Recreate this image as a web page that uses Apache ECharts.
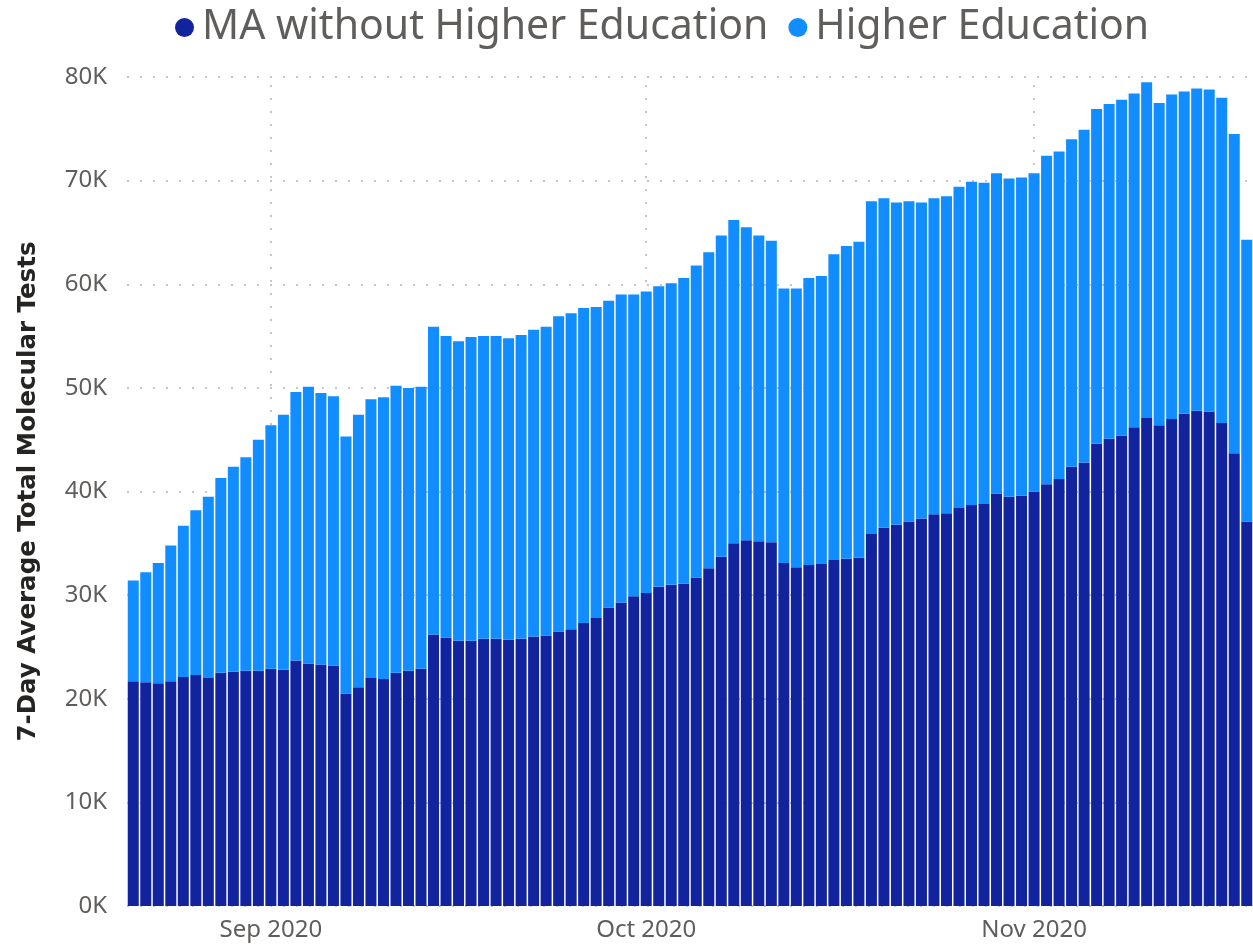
<!DOCTYPE html>
<html>
<head>
<meta charset="utf-8">
<script src="https://cdn.jsdelivr.net/npm/echarts@6/dist/echarts.min.js"></script>
<style>
  html, body { margin: 0; padding: 0; background: #fff; }
  #chart { width: 1253px; height: 948px; }
</style>
</head>
<body>
<div id="chart"></div>
<script>
// daily bars, 21 Aug 2020 .. 18 Nov 2020
const startDate = '2020-08-21';
const dayCount = 90;

// 7-day average tests, thousands
const maWithoutHigherEd = [
  21.7, 21.6, 21.5, 21.7, 22.1, 22.3, 22.0, 22.5, 22.6, 22.7,
  22.7, 22.9, 22.8, 23.7, 23.4, 23.3, 23.2, 20.5, 21.1, 22.0,
  21.9, 22.5, 22.7, 22.9, 26.2, 25.9, 25.6, 25.6, 25.8, 25.8,
  25.7, 25.8, 26.0, 26.1, 26.5, 26.7, 27.3, 27.8, 28.8, 29.3,
  29.9, 30.2, 30.8, 31.0, 31.1, 31.7, 32.6, 33.7, 35.0, 35.3,
  35.2, 35.1, 33.1, 32.7, 32.9, 33.0, 33.4, 33.5, 33.6, 35.9,
  36.5, 36.8, 37.1, 37.4, 37.8, 37.9, 38.4, 38.7, 38.8, 39.8,
  39.5, 39.6, 40.0, 40.7, 41.2, 42.4, 42.8, 44.6, 45.1, 45.4,
  46.2, 47.1, 46.4, 47.0, 47.5, 47.8, 47.7, 46.6, 43.7, 37.1
];
const higherEd = [
  9.7, 10.6, 11.6, 13.1, 14.6, 15.9, 17.5, 18.8, 19.8, 20.6,
  22.3, 23.5, 24.6, 25.9, 26.7, 26.2, 26.0, 24.8, 26.3, 26.9,
  27.2, 27.7, 27.3, 27.2, 29.7, 29.1, 28.9, 29.3, 29.2, 29.2,
  29.1, 29.3, 29.6, 29.8, 30.4, 30.5, 30.4, 30.0, 29.6, 29.7,
  29.1, 29.1, 29.0, 29.1, 29.5, 30.1, 30.5, 31.0, 31.2, 30.2,
  29.5, 29.1, 26.5, 26.9, 27.7, 27.8, 29.5, 30.2, 30.5, 32.1,
  31.8, 31.1, 30.9, 30.5, 30.5, 30.6, 31.0, 31.2, 31.0, 30.9,
  30.7, 30.7, 30.7, 31.7, 31.6, 31.6, 32.1, 32.3, 32.3, 32.4,
  32.2, 32.4, 31.1, 31.3, 31.1, 31.1, 31.1, 31.4, 30.8, 27.2
];
const monthLabels = ['2020-09-01', '2020-10-01', '2020-11-01'];
const monthNames = ['Jan', 'Feb', 'Mar', 'Apr', 'May', 'Jun', 'Jul', 'Aug', 'Sep', 'Oct', 'Nov', 'Dec'];

let days = [];
let d = new Date(startDate + 'T00:00:00Z');
for (let i = 0; i < dayCount; i++) {
  days.push(d.toISOString().slice(0, 10));
  d.setUTCDate(d.getUTCDate() + 1);
}

const gridDots = { color: '#c8c6c4', width: 2, type: [2, 11] };
const fontFamily = '"Noto Sans", "Open Sans", sans-serif';

let chart = echarts.init(document.getElementById('chart'));
chart.setOption({
  animation: false,
  textStyle: { fontFamily: fontFamily },
  legend: {
    left: 170,
    top: 2,
    icon: 'circle',
    itemWidth: 19,
    itemHeight: 19,
    itemGap: 20,
    textStyle: { fontSize: 41, color: '#605e5c', padding: [0, 0, 0, 3] },
    data: ['MA without Higher Education', 'Higher Education'],
  },
  grid: { left: 127, top: 77, width: 1130, height: 829 },
  xAxis: {
    type: 'category',
    data: days,
    axisLine: { show: false },
    axisTick: { show: false },
    axisLabel: {
      fontSize: 24,
      color: '#605e5c',
      margin: 12,
      interval: (idx, val) => monthLabels.indexOf(val) >= 0,
      formatter: val => monthNames[+val.slice(5, 7) - 1] + ' ' + val.slice(0, 4),
    },
  },
  yAxis: {
    type: 'value',
    min: 0,
    max: 80,
    interval: 10,
    name: '7-Day Average Total Molecular Tests',
    nameLocation: 'middle',
    nameRotate: 90,
    nameGap: 86,
    nameTextStyle: { fontSize: 24.5, fontWeight: 'bold', color: '#252423', fontFamily: '"DejaVu Sans", sans-serif' },
    axisLabel: { fontSize: 24, color: '#605e5c', margin: 20, formatter: v => v + 'K' },
    splitLine: { lineStyle: gridDots },
  },
  series: [
    {
      name: 'month lines',
      type: 'line',
      data: [],
      z: 1,
      silent: true,
      markLine: {
        silent: true,
        z: 1,
        symbol: 'none',
        label: { show: false },
        lineStyle: gridDots,
        data: monthLabels.map(m => ({ xAxis: m })),
      },
    },
    {
      name: 'MA without Higher Education',
      type: 'bar',
      stack: 'tests',
      barCategoryGap: '12%',
      itemStyle: { color: '#12239e' },
      data: maWithoutHigherEd,
      z: 3,
    },
    {
      name: 'Higher Education',
      type: 'bar',
      stack: 'tests',
      barCategoryGap: '12%',
      itemStyle: { color: '#118dff' },
      data: higherEd,
      z: 3,
    },
  ],
});
</script>
</body>
</html>
